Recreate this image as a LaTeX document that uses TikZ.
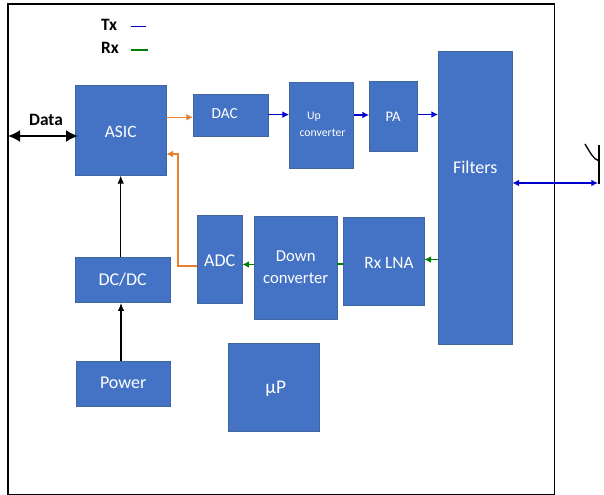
\documentclass[tikz,border=0pt]{standalone}
\usepackage{fontspec}
\setmainfont{Carlito}
\usetikzlibrary{arrows.meta}
\definecolor{blk}{HTML}{4472C4}
\definecolor{blkedge}{HTML}{41659F}
\definecolor{orng}{HTML}{E8802F}
\definecolor{txblue}{HTML}{0000CC}
\definecolor{rxgreen}{HTML}{008000}
\tikzset{
  x=0.75pt,y=-0.75pt,
  blockbox/.style={draw=blkedge,line width=0.6pt,fill=blk,inner sep=0pt,outer sep=0pt,text=white,anchor=north west},
  lbl/.style={text=white,inner sep=0pt,font=\fontsize{#1}{#1}\selectfont},
  lbl/.default=12.5,
  tip/.style={-{Latex[length=5pt,width=5pt]}},
  conn/.style={line width=0.8pt},
  orangeconn/.style={conn,orng,tip},
  txconn/.style={conn,txblue,tip},
  rxconn/.style={conn,rxgreen,tip},
  blackconn/.style={line width=0.9pt,black,{Latex[length=6pt,width=5pt]}-},
  legend/.style={inner sep=0pt,font=\bfseries\fontsize{13}{13}\selectfont},
}
% name, x0, y0, width, height (px), label dx, dy (pt), label text, size
\newcommand{\blockat}[9]{%
  \node[blockbox,minimum width=(#4-0.6)*0.75pt,minimum height=(#5-0.4)*0.75pt,
    label={[lbl=#9,name=#1-text,xshift=#6pt,yshift=#7pt]center:#8}] (#1) at (#2,#3) {};}
\begin{document}
\begin{tikzpicture}
\fill[white] (0,0) rectangle (604,495);
\useasboundingbox (0,0) rectangle (604,495);
\node[draw=black,line width=1.4pt,outer sep=0pt,minimum width=546.5*0.75pt,minimum height=490.5*0.75pt,inner sep=0pt,anchor=north west] (frame) at (8,4) {};
\blockat{asic}{75}{85}{92}{91}{0}{-1}{ASIC}{13}
\blockat{dac}{193}{94}{76}{43}{-4.5}{1}{DAC}{11.5}
\blockat{up}{289}{82}{65}{87}{1}{0}{\begin{tabular}{@{}c@{}}\hspace*{-12.8pt}Up\\[4pt]converter\end{tabular}}{8.8}
\blockat{pa}{369}{81}{49}{71}{0}{0}{PA}{11}
\blockat{filt}{438}{51}{75}{294}{0}{23}{Filters}{13.5}
\blockat{adc}{197}{215}{46}{89}{0}{-1}{ADC}{13.5}
\blockat{down}{254}{216}{84}{104}{0}{-0.75}{\begin{tabular}{@{}c@{}}Down\\[4pt]converter\end{tabular}}{12.5}
\blockat{lna}{343}{217}{82}{89}{4}{-1}{Rx LNA}{13}
\blockat{dcdc}{75}{257}{96}{46}{0}{0}{DC/DC}{13.5}
\blockat{power}{76}{361}{95}{46}{0}{0.75}{Power}{13.5}
\blockat{mup}{228}{343}{92}{89}{1.5}{-1.5}{µP}{14.5}
% legend
\node[legend] (txlabel) at (109,25) {Tx};
\node[legend] (rxlabel) at (110,48) {Rx};
\coordinate (txa) at (131,26.5);
\coordinate (txb) at (146,26.5);
\coordinate (rxa) at (131,50);
\coordinate (rxb) at (148,50);
\draw[conn,txblue] (txa) -- (txb);
\draw[conn,rxgreen] (rxa) -- (rxb);
% data
\node[inner sep=0pt,font=\bfseries\fontsize{13}{13}\selectfont] (datalabel) at (46,120) {Data};
\coordinate (dataleft) at (8,136);
\draw[line width=1.4pt,{Latex[length=9pt,width=9pt]}-{Latex[length=9pt,width=9pt]}] (dataleft) -- (78,136);
% ASIC to DAC
\draw[orangeconn] ([yshift=9.75pt]asic.east) -- ([yshift=9.75pt]asic.east -| dac.west);
\draw[txconn] ([yshift=0.5pt]dac.east) -- ([yshift=0.5pt]dac.east -| up.west);
\coordinate (uppa) at (354,115);
\draw[txconn] (uppa) -- (uppa -| pa.west);
\coordinate (pafilt) at (418,114.5);
\draw[txconn] (pafilt) -- (pafilt -| filt.west);
% RF
\coordinate (ant) at (598,183);
\draw[line width=0.9pt,txblue,{Latex[length=5pt,width=5pt]}-{Latex[length=5pt,width=5pt]}] (ant -| filt.east) -- (ant);
% receive
\coordinate (filtlna) at (438,259.5);
\draw[rxconn] (filtlna) -- (filtlna -| lna.east);
\coordinate (lnadown) at (343,264);
\draw[conn,rxgreen] (lnadown) -- (lnadown -| down.east);
\coordinate (downadc) at (254,264.5);
\draw[rxconn] (downadc) -- (downadc -| adc.east);
% ADC to ASIC
\coordinate (adcout) at (197,266);
\coordinate (bend) at (178,266);
\coordinate (bendtop) at (178,154);
\draw[orangeconn] (adcout) -- (bend) -- (bendtop) -- (bendtop -| asic.east);
% power chain
\draw[blackconn] (asic.south) -- (asic.south |- dcdc.north);
\coordinate (pwrtop) at (121,303);
\coordinate (pwrbot) at (121,361);
\draw[blackconn] (pwrtop) -- (pwrbot);
% antenna
\coordinate (anttop) at (599,145);
\coordinate (antbot) at (599,184);
\coordinate (antjoin) at (599,161);
\coordinate (antleft) at (585,144);
\draw[line width=1pt,black] (anttop) -- (antbot);
\draw[line width=1pt,black] (antleft) .. controls (590,152) and (593,159) .. (antjoin);
\end{tikzpicture}
\end{document}
